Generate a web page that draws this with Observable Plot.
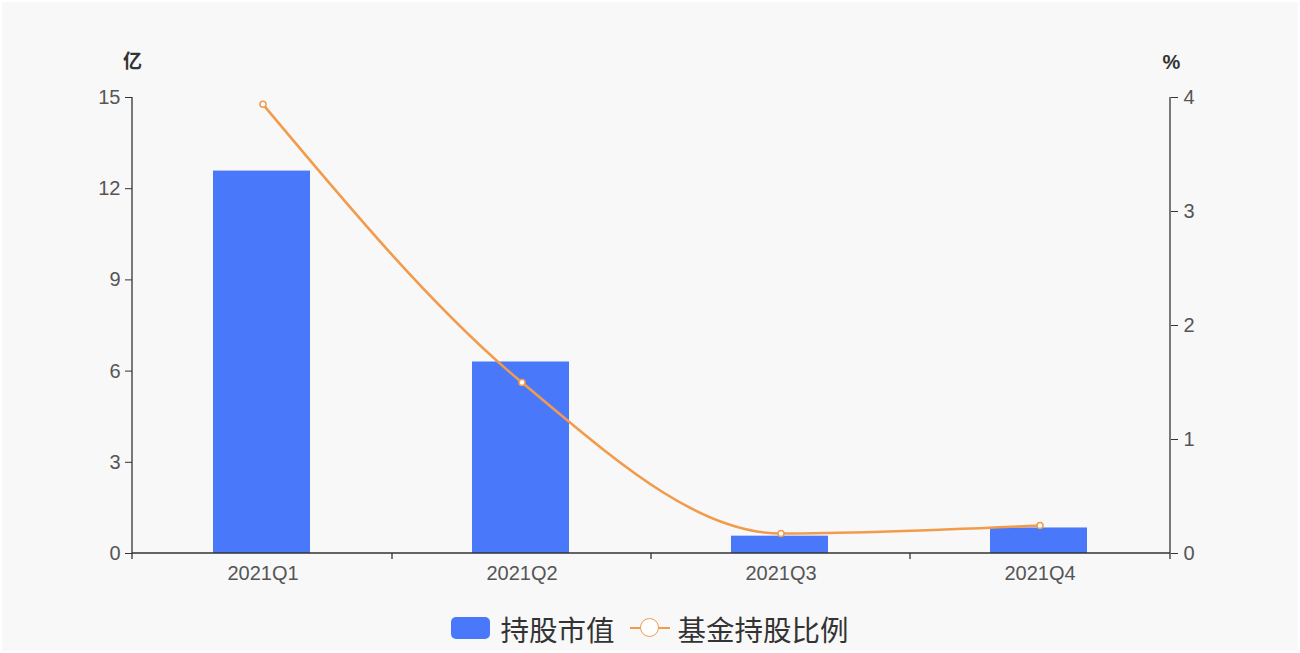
<!DOCTYPE html>
<html>
<head>
<meta charset="utf-8">
<script src="https://cdn.jsdelivr.net/npm/d3@7"></script>
<script src="https://cdn.jsdelivr.net/npm/@observablehq/plot@0.6"></script>
<style>
  html, body { margin: 0; padding: 0; background: #fff; }
  #wrap { width: 1300px; height: 653px; background: #f8f8f8; box-shadow: inset 0 0 0 2px #fff; position: relative; overflow: hidden; }
  #legend { height: 46px; display: flex; align-items: center; justify-content: center; gap: 0; font-family: "Noto Sans CJK SC", "Noto Sans", sans-serif; font-size: 28.5px; color: #333; }
  .item { display: flex; align-items: center; }
  .sw { width: 39px; height: 22px; border-radius: 5px; background: #4a78fa; margin-right: 10px; }
  .ln { position: relative; width: 40px; height: 24px; margin-left: 15px; margin-right: 8px; }
  .ln::before { content: ""; position: absolute; left: 0; right: 0; top: 11px; height: 2px; background: #f29b4c; }
  .ln::after { content: ""; position: absolute; left: 10px; top: 2px; width: 17px; height: 17px; border-radius: 50%; border: 1.6px solid #f29b4c; background: #fff; }
</style>
</head>
<body>
<div id="wrap">
  <div id="chart"></div>
  <div id="legend">
    <div class="item"><div class="sw"></div><span>持股市值</span></div>
    <div class="item"><div class="ln"></div><span>基金持股比例</span></div>
  </div>
</div>
<script>
const quarters = ["2021Q1", "2021Q2", "2021Q3", "2021Q4"];
const marketValue = [12.58, 6.30, 0.57, 0.84];     // 持股市值 (亿)
const holdingRatio = [3.94, 1.50, 0.175, 0.245];  // 基金持股比例 (%)
const leftTicks = [0, 3, 6, 9, 12, 15];
const rightTicks = [0, 1, 2, 3, 4];
const leftMax = 15, rightMax = 4;
const factor = leftMax / rightMax;

const data = quarters.map((q, i) => ({q, value: marketValue[i], ratio: holdingRatio[i]}));

const barColor = "#4a78fa";
const lineColor = "#f29b4c";
const axisColor = "#333";

function axisLines(index, scales, values, dimensions) {
  const {width, marginLeft, marginRight} = dimensions;
  const x0 = marginLeft, x1 = width - marginRight;
  const yb = scales.y(0), yt = scales.y(leftMax);
  const ext = 6;
  const g = d3.create("svg:g").attr("stroke", axisColor).attr("stroke-width", 1.3).attr("fill", "none");
  g.append("line").attr("x1", x0).attr("x2", x0).attr("y1", yt).attr("y2", yb + ext);
  g.append("line").attr("x1", x1).attr("x2", x1).attr("y1", yt).attr("y2", yb + ext);
  g.append("line").attr("x1", x0).attr("x2", x1).attr("y1", yb).attr("y2", yb);
  quarters.slice(1).forEach(q => {
    const bx = scales.x(q);
    g.append("line").attr("x1", bx).attr("x2", bx).attr("y1", yb).attr("y2", yb + ext);
  });
  return g.node();
}

const chart = Plot.plot({
  width: 1300,
  height: 605,
  marginLeft: 132,
  marginRight: 130,
  marginTop: 97,
  marginBottom: 52,
  style: {background: "transparent", color: "#555", fontFamily: "'Liberation Sans', Arial, 'Noto Sans CJK SC', sans-serif", fontSize: "20px"},
  x: {domain: quarters, padding: 0},
  y: {domain: [0, leftMax]},
  marks: [
    Plot.barY(data, {x: "q", y: "value", fill: barColor, insetLeft: 80, insetRight: 82}),
    axisLines,
    Plot.axisY(leftTicks, {anchor: "left", tickSize: 7, tickPadding: 5, label: null, stroke: axisColor, fontSize: 20}),
    Plot.axisY(rightTicks.map(t => t * factor), {anchor: "right", tickSize: 7, tickPadding: 6, label: null, stroke: axisColor, fontSize: 20, tickFormat: d => Math.round(d / factor)}),
    Plot.axisX({tickSize: 0, tickPadding: 12, label: null, fontSize: 20}),
    Plot.line(data, {x: "q", y: d => d.ratio * factor, curve: "monotone-x", stroke: lineColor, strokeWidth: 2.6}),
    Plot.dot(data, {x: "q", y: d => d.ratio * factor, r: 3, fill: "#fff", stroke: lineColor, strokeWidth: 1.5}),
    Plot.text(["亿"], {frameAnchor: "top-left", text: d => d, textAnchor: "middle", dy: -43, fontSize: 19, fontWeight: "bold", fill: "#333", fontFamily: "'Noto Sans CJK SC', sans-serif"}),
    Plot.text(["%"], {frameAnchor: "top-right", text: d => d, textAnchor: "middle", dy: -43, dx: 1, fontSize: 20, fontWeight: "bold", fill: "#333"})
  ]
});
document.getElementById("chart").appendChild(chart);
</script>
</body>
</html>
